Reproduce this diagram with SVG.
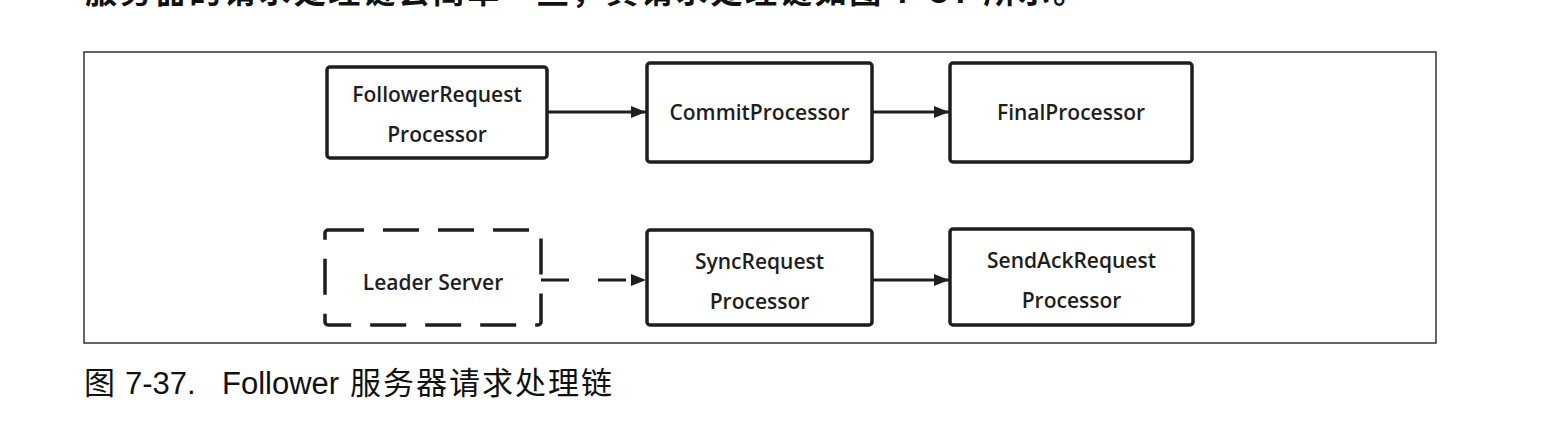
<svg xmlns="http://www.w3.org/2000/svg" width="1560" height="432" viewBox="0 0 1560 432">
<defs>
<style>
.node rect{fill:#fff;stroke:#1e1e1e;stroke-width:3.5}
.dash rect{fill:none;stroke:#1e1e1e;stroke-width:3.5;stroke-dasharray:36 19}
.lbl{font-family:"Open Sans","Noto Sans",sans-serif;font-size:21px;font-weight:600;fill:#1e1e1e;text-anchor:middle}
.conn line{stroke:#1e1e1e;stroke-width:3}
.cap{font-family:"Liberation Sans","Noto Sans CJK SC",sans-serif;font-size:31px;fill:#111}
</style>
<marker id="ah" viewBox="0 0 15 12" refX="15" refY="6" markerWidth="15" markerHeight="12" markerUnits="userSpaceOnUse" orient="auto">
<path d="M0,0 L15,6 L0,12 Z" fill="#1e1e1e"/>
</marker>
</defs>
<rect width="1560" height="432" fill="#fff"/>
<text x="85" y="3" font-size="32" font-weight="bold" fill="#111" textLength="1000" font-family="'Noto Sans CJK SC',sans-serif">服务器的请求处理链会简单一些，其请求处理链如图 7-37 所示。</text>
<rect id="frame" x="84" y="52" width="1352" height="291" fill="none" stroke="#333" stroke-width="1.5"/>
<g id="n-follower" class="node"><rect x="327" y="67" width="220" height="91" rx="3"/><text class="lbl" x="437" y="102">FollowerRequest</text><text class="lbl" x="437" y="142">Processor</text></g>
<g id="n-commit" class="node"><rect x="647" y="63" width="225" height="99" rx="3"/><text class="lbl" x="759.5" y="120">CommitProcessor</text></g>
<g id="n-final" class="node"><rect x="950" y="63" width="242" height="99" rx="3"/><text class="lbl" x="1071" y="120">FinalProcessor</text></g>
<g id="n-leader" class="dash"><rect x="325" y="230" width="216" height="95" rx="3"/><text class="lbl" x="433" y="290">Leader Server</text></g>
<g id="n-sync" class="node"><rect x="647" y="230" width="225" height="95" rx="3"/><text class="lbl" x="759.5" y="269">SyncRequest</text><text class="lbl" x="759.5" y="309">Processor</text></g>
<g id="n-sendack" class="node"><rect x="950" y="229" width="243" height="96" rx="3"/><text class="lbl" x="1071.5" y="268">SendAckRequest</text><text class="lbl" x="1071.5" y="308">Processor</text></g>
<g id="connectors" class="conn">
<line x1="547" y1="112" x2="646" y2="112" marker-end="url(#ah)"/>
<line x1="872" y1="112" x2="949" y2="112" marker-end="url(#ah)"/>
<line x1="541" y1="280" x2="646" y2="280" stroke-dasharray="28 29" marker-end="url(#ah)"/>
<line x1="872" y1="280" x2="949" y2="280" marker-end="url(#ah)"/>
</g>
<text class="cap" y="394"><tspan x="84">图</tspan><tspan x="125">7-37.</tspan><tspan x="222">Follower</tspan><tspan x="350" textLength="262">服务器请求处理链</tspan></text>
</svg>
